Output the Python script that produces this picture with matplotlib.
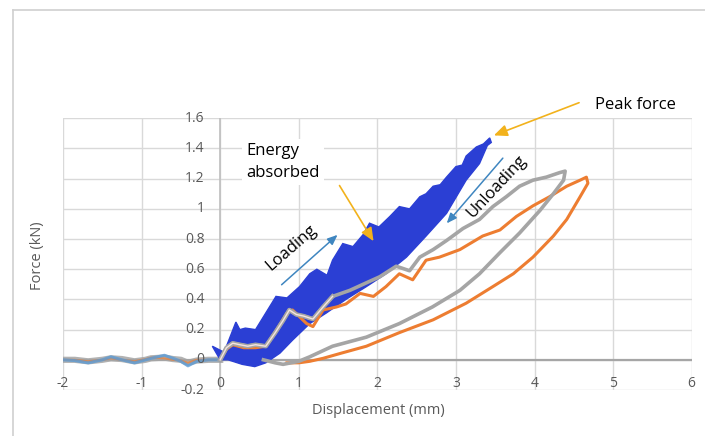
import numpy as np
import matplotlib
matplotlib.use("Agg")
import matplotlib.pyplot as plt

plt.rcParams['font.family'] = ['Open Sans', 'DejaVu Sans']

# pre-load baseline (displacement < 0), all three channels sit around zero
pre_x = [-2.0, -1.85, -1.68, -1.5, -1.39, -1.25, -1.09, -0.95, -0.88, -0.71, -0.6, -0.5, -0.41, -0.3, -0.15, 0.0]
pre_blue = [0.0, -0.005, -0.02, 0.0, 0.02, 0.0, -0.02, 0.0, 0.01, 0.03, 0.01, -0.01, -0.04, -0.01, 0.0, 0.0]
pre_orange = [0.0, 0.0, -0.01, 0.0, 0.01, 0.0, -0.01, 0.005, 0.015, 0.01, 0.0, -0.005, -0.02, 0.0, 0.0, 0.0]
pre_gray = [0.0, 0.0, -0.01, 0.0, 0.01, 0.005, -0.01, 0.0, 0.01, 0.015, 0.005, 0.0, -0.02, -0.005, 0.0, 0.0]

# first cycle: loading (jagged) and unloading (smooth) edges of the shaded loop
load1_x = [0.0, -0.1, 0.05, 0.2, 0.25, 0.32, 0.45, 0.58, 0.71, 0.85, 1.01, 1.14, 1.23, 1.36, 1.43,
           1.56, 1.69, 1.82, 1.9, 2.02, 2.16, 2.28, 2.41, 2.54, 2.62, 2.71, 2.8, 2.88, 3.0, 3.08, 3.13,
           3.26, 3.35, 3.43]
load1_y = [0.0, 0.09, 0.05, 0.25, 0.2, 0.21, 0.2, 0.31, 0.42, 0.41, 0.485, 0.57, 0.6, 0.56, 0.66,
           0.77, 0.75, 0.83, 0.905, 0.88, 0.95, 1.015, 1.0, 1.08, 1.1, 1.15, 1.16, 1.21, 1.28, 1.29, 1.35,
           1.41, 1.43, 1.47]
unload1_x = [3.45, 3.4, 3.3, 3.13, 2.88, 2.62, 2.37, 2.11, 1.86, 1.6, 1.35, 1.14, 0.92, 0.76, 0.58,
             0.44, 0.28, 0.1, 0.0]
unload1_y = [1.44, 1.42, 1.3, 1.19, 0.97, 0.82, 0.68, 0.57, 0.485, 0.4, 0.31, 0.24, 0.13, 0.044, -0.02,
             -0.045, -0.03, 0.0, 0.0]

# second cycle (gray)
load2_x = [0.0, 0.08, 0.16, 0.25, 0.35, 0.45, 0.58, 0.7, 0.8, 0.88, 0.97, 1.06, 1.18, 1.31, 1.43, 1.65,
           1.86, 2.03, 2.24, 2.41, 2.54, 2.71, 2.88, 3.09, 3.3, 3.47, 3.64, 3.81, 3.98, 4.15, 4.32, 4.39]
load2_y = [0.0, 0.08, 0.11, 0.1, 0.09, 0.1, 0.09, 0.18, 0.26, 0.33, 0.3, 0.29, 0.27, 0.35, 0.42, 0.46,
           0.51, 0.55, 0.62, 0.59, 0.68, 0.73, 0.79, 0.87, 0.93, 1.015, 1.08, 1.15, 1.19, 1.21, 1.24, 1.25]
unload2_x = [4.39, 4.37, 4.24, 4.07, 3.81, 3.56, 3.3, 3.05, 2.7, 2.28, 1.86, 1.43, 1.14, 1.0, 0.8, 0.7, 0.55]
unload2_y = [1.25, 1.19, 1.1, 0.99, 0.84, 0.71, 0.57, 0.46, 0.35, 0.24, 0.15, 0.09, 0.02, -0.01, -0.03, -0.02, 0.0]

# third cycle (orange)
load3_x = [0.0, 0.08, 0.16, 0.3, 0.45, 0.58, 0.72, 0.85, 0.92, 1.0, 1.1, 1.18, 1.31, 1.48, 1.6, 1.78,
           1.95, 2.11, 2.28, 2.45, 2.62, 2.79, 3.05, 3.34, 3.56, 3.77, 3.98, 4.19, 4.41, 4.58, 4.66]
load3_y = [0.0, 0.07, 0.1, 0.08, 0.08, 0.09, 0.2, 0.31, 0.33, 0.29, 0.24, 0.22, 0.33, 0.35, 0.37, 0.44,
           0.42, 0.485, 0.57, 0.53, 0.66, 0.68, 0.73, 0.82, 0.86, 0.95, 1.02, 1.08, 1.15, 1.19, 1.21]
unload3_x = [4.66, 4.68, 4.58, 4.41, 4.24, 3.98, 3.73, 3.47, 3.13, 2.71, 2.28, 1.86, 1.54, 1.31, 1.14,
             1.0, 0.85]
unload3_y = [1.21, 1.17, 1.08, 0.93, 0.82, 0.68, 0.57, 0.485, 0.375, 0.265, 0.18, 0.09, 0.044, 0.01,
             -0.01, -0.02, -0.02]

x_ticks = [-2, -1, 0, 1, 2, 3, 4, 5, 6]
y_ticks = [-0.2, 0, 0.2, 0.4, 0.6, 0.8, 1.0, 1.2, 1.4, 1.6]
y_tick_labels = ["-0.2", "0", "0.2", "0.4", "0.6", "0.8", "1", "1.2", "1.4", "1.6"]

BLUE_FILL = "#2b3fd4"
GRAY = "#a5a5a5"
ORANGE = "#ed7d31"
LIGHT_BLUE = "#5b9bd5"
ARROW_BLUE = "#3f86c0"
GOLD = "#f2b21c"
TEXT = "#595959"

fig = plt.figure(figsize=(7.05, 4.36), dpi=100)
ax = fig.add_axes([0.0894, 0.1055, 0.8917, 0.6232])
ax.set_xlim(-2, 6)
ax.set_ylim(-0.2, 1.6)

# chart border (only left and top edge fall inside the figure)
fig.add_artist(plt.Line2D([13 / 705, 13 / 705], [0, 1 - 10 / 436], color="#d0d0d0", lw=1.2))
fig.add_artist(plt.Line2D([13 / 705, 1], [1 - 10 / 436, 1 - 10 / 436], color="#d0d0d0", lw=1.2))

# grid
for xv in x_ticks:
    ax.axvline(xv, color="#d9d9d9", lw=1, zorder=0)
for yv in y_ticks:
    ax.axhline(yv, color="#d9d9d9", lw=1, zorder=0)
ax.axhline(0, color="#a6a6a6", lw=1.6, zorder=1)
ax.axvline(0, color="#bfbfbf", lw=1.2, zorder=1)

for s in ax.spines.values():
    s.set_visible(False)
ax.set_xticks([])
ax.set_yticks([])

# tick labels sit next to the axes that cross at the origin
for xv in x_ticks:
    ax.text(xv, -0.16, str(xv), ha="center", va="center", fontsize=10, color=TEXT)
for yv, lab in zip(y_ticks, y_tick_labels):
    ax.text(-0.2, yv, lab, ha="right", va="center", fontsize=10, color=TEXT)

# pre-load traces
ax.plot(pre_x, pre_gray, color=GRAY, lw=4.5, alpha=0.85, zorder=2)
ax.plot(pre_x, pre_orange, color=ORANGE, lw=1.5, alpha=0.7, zorder=2)
ax.plot(pre_x, pre_blue, color=LIGHT_BLUE, lw=2.2, alpha=0.8, zorder=2)

# hysteresis loops
ax.plot(load3_x + unload3_x, load3_y + unload3_y, color=ORANGE, lw=2.2, zorder=3)
ax.plot(load2_x + unload2_x, load2_y + unload2_y, color=GRAY, lw=2.6, zorder=3)
ax.fill(load1_x + unload1_x, load1_y + unload1_y, color=BLUE_FILL, lw=1, ec=BLUE_FILL, zorder=2)
# light core of the gray loading path in the early part
n_early = 15
ax.plot(load2_x[:n_early], load2_y[:n_early], color=GRAY, lw=3.2, zorder=4)
ax.plot(load2_x[:n_early], load2_y[:n_early], color="#f6e4de", lw=1.0, zorder=4)

# annotations
ax.text(0.33, 1.31, "Energy\nabsorbed", ha="left", va="center", fontsize=12, color="black",
        linespacing=1.5, bbox=dict(fc="white", ec="none", pad=3), zorder=5)
ax.annotate("", xy=(1.97, 0.77), xytext=(1.5, 1.17),
            arrowprops=dict(arrowstyle="-|>,head_length=0.8,head_width=0.35", color=GOLD, lw=1.2),
            zorder=6)

ax.text(5.28, 1.69, "Peak force", ha="center", va="center", fontsize=12, color="black",
        bbox=dict(fc="white", ec="none", pad=2), clip_on=False, zorder=5)
ax.annotate("", xy=(3.45, 1.48), xytext=(4.6, 1.71),
            arrowprops=dict(arrowstyle="-|>,head_length=0.8,head_width=0.35", color=GOLD, lw=1.2),
            annotation_clip=False, zorder=6)

ax.text(0.9, 0.74, "Loading", ha="center", va="center", rotation=41, fontsize=12, color="black",
        zorder=5)
ax.annotate("", xy=(1.52, 0.84), xytext=(0.755, 0.485),
            arrowprops=dict(arrowstyle="-|>,head_length=0.6,head_width=0.25", color=ARROW_BLUE, lw=1.1),
            zorder=6)

ax.text(3.52, 1.15, "Unloading", ha="center", va="center", rotation=47, fontsize=12, color="black",
        zorder=5)
ax.annotate("", xy=(2.86, 0.89), xytext=(3.62, 1.35),
            arrowprops=dict(arrowstyle="-|>,head_length=0.6,head_width=0.25", color=ARROW_BLUE, lw=1.1),
            zorder=6)

fig.text(37 / 705, 1 - 256 / 436, "Force (kN)", rotation=90, ha="center", va="center",
         fontsize=10.5, color=TEXT)
fig.text(378 / 705, 1 - 410 / 436, "Displacement (mm)", ha="center", va="center",
         fontsize=10.5, color=TEXT)

fig.savefig("out.png", dpi=100, facecolor="white")
